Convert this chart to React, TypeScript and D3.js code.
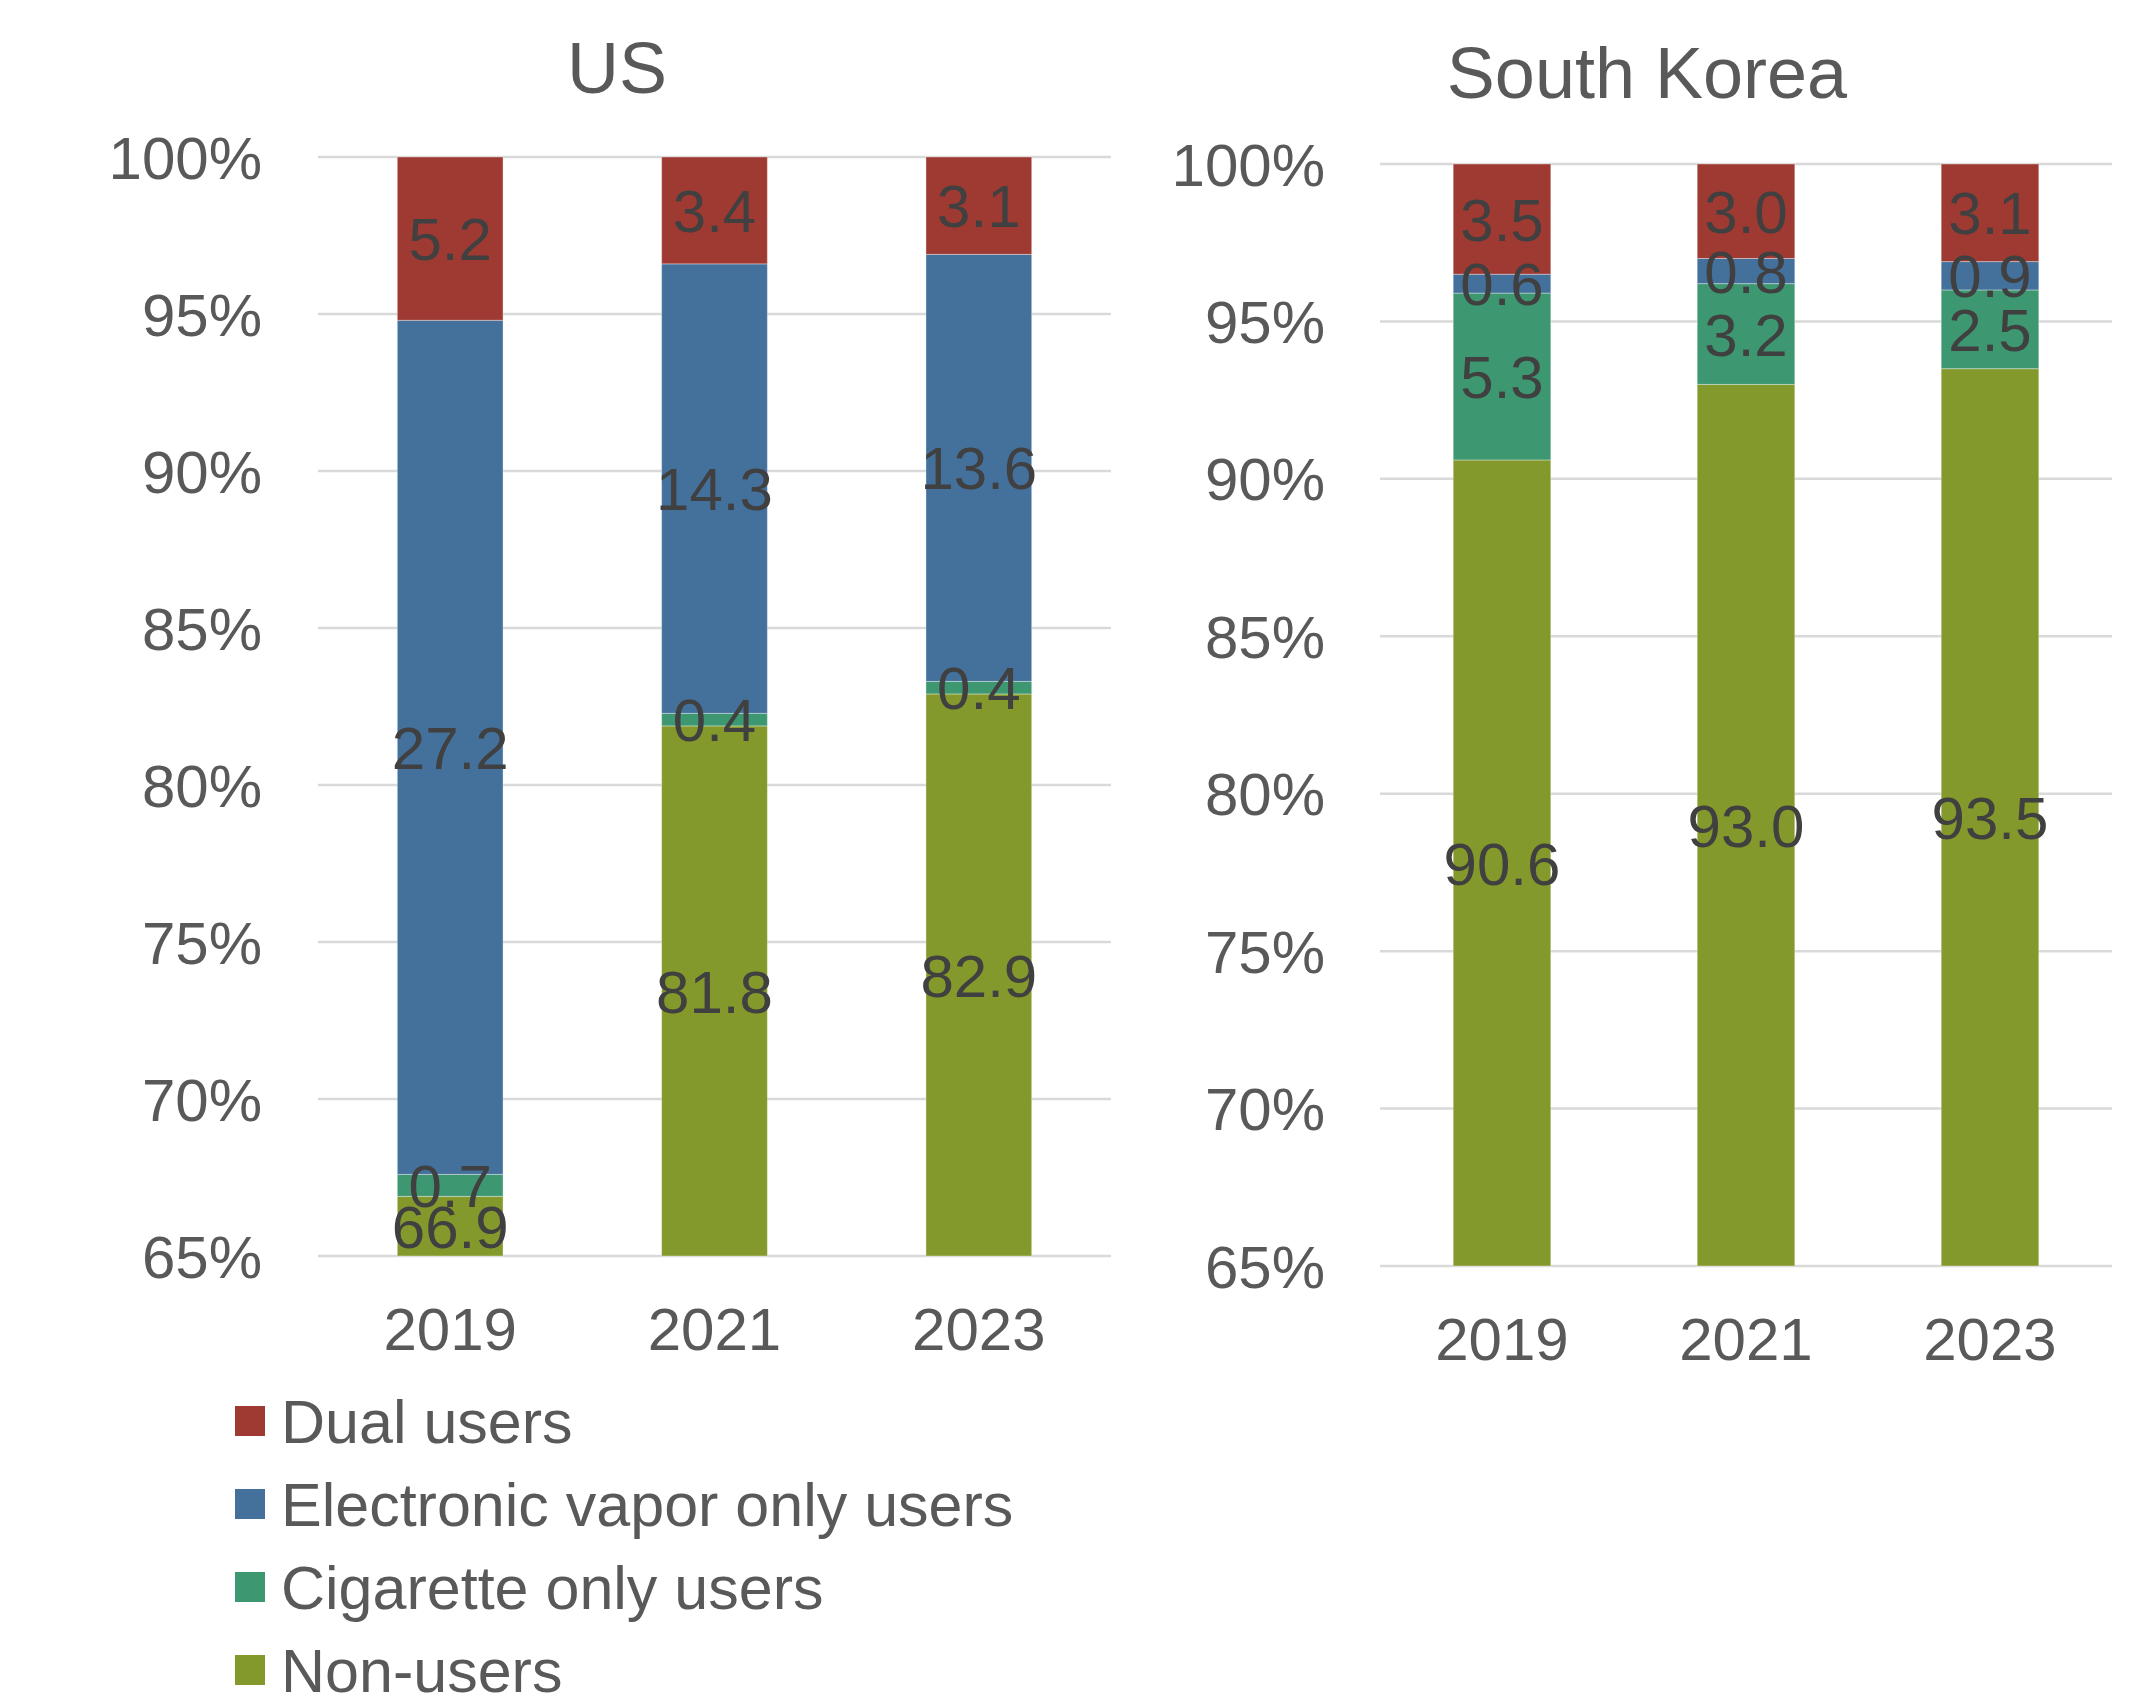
import React from "react";
import * as d3 from "d3";

const years = ["2019", "2021", "2023"];
const seriesNames = ["Non-users", "Cigarette only users", "Electronic vapor only users", "Dual users"];
const seriesColors = ["#84992B", "#3D9770", "#44709C", "#9F3A33"];
const legendOrder = ["Dual users", "Electronic vapor only users", "Cigarette only users", "Non-users"];

const usNonUsers = [66.9, 81.8, 82.9];
const usCigarette = [0.7, 0.4, 0.4];
const usVapor = [27.2, 14.3, 13.6];
const usDual = [5.2, 3.4, 3.1];

const krNonUsers = [90.6, 93.0, 93.5];
const krCigarette = [5.3, 3.2, 2.5];
const krVapor = [0.6, 0.8, 0.9];
const krDual = [3.5, 3.0, 3.1];

const yTicks = [65, 70, 75, 80, 85, 90, 95, 100];

const W = 2142;
const H = 1701;
const FONT = "'Liberation Sans', Arial, sans-serif";

type Panel = {
  title: string;
  titleX: number;
  titleY: number;
  left: number;
  right: number;
  top: number;
  bottom: number;
  labelRight: number;
  xLabelY: number;
  values: number[][];
};

function buildRows(values: number[][]) {
  return years.map((yr, i) => {
    const row: any = { year: yr };
    seriesNames.forEach((s, k) => (row[s] = values[k][i]));
    return row;
  });
}

function ChartPanel({ p }: { p: Panel }) {
  const x = d3.scaleBand<string>().domain(years).range([p.left, p.right]).paddingInner(0.6).paddingOuter(0.3);
  const y = d3.scaleLinear().domain([65, 100]).range([p.bottom, p.top]);
  const rows = buildRows(p.values);
  const stacked = d3.stack<any>().keys(seriesNames).offset(d3.stackOffsetExpand)(rows);
  const clampV = (v: number) => Math.max(65, Math.min(100, v * 100));
  return (
    <g>
      <text x={p.titleX} y={p.titleY} textAnchor="middle" fontSize={72} fill="#595959" fontFamily={FONT}>
        {p.title}
      </text>
      {yTicks.map((t) => (
        <g key={t}>
          <line x1={p.left} x2={p.right} y1={y(t)} y2={y(t)} stroke="#D9D9D9" strokeWidth={2.5} />
          <text x={p.labelRight} y={y(t)} dy="0.36em" textAnchor="end" fontSize={60} fill="#595959" fontFamily={FONT}>
            {t}%
          </text>
        </g>
      ))}
      {stacked.map((layer, k) => (
        <g key={layer.key}>
          {layer.map((d, i) => {
            const y0 = clampV(d[0]);
            const y1 = clampV(d[1]);
            const bx = x(years[i])!;
            return (
              <rect
                key={i}
                x={bx}
                width={x.bandwidth()}
                y={y(y1)}
                height={Math.max(0, y(y0) - y(y1))}
                fill={seriesColors[k]}
                stroke="#ffffff"
                strokeOpacity={0.35}
                strokeWidth={1}
              />
            );
          })}
        </g>
      ))}
      {stacked.map((layer, k) => (
        <g key={layer.key + "-lbl"}>
          {layer.map((d, i) => {
            const y0 = clampV(d[0]);
            const y1 = clampV(d[1]);
            const bx = x(years[i])! + x.bandwidth() / 2;
            return (
              <text
                key={i}
                x={bx}
                y={y((y0 + y1) / 2)}
                dy="0.36em"
                textAnchor="middle"
                fontSize={60}
                fill="#404040"
                fontFamily={FONT}
              >
                {p.values[k][i].toFixed(1)}
              </text>
            );
          })}
        </g>
      ))}
      {years.map((yr) => (
        <text
          key={yr}
          x={x(yr)! + x.bandwidth() / 2}
          y={p.xLabelY}
          textAnchor="middle"
          fontSize={60}
          fill="#595959"
          fontFamily={FONT}
        >
          {yr}
        </text>
      ))}
    </g>
  );
}

export default function App() {
  const us: Panel = {
    title: "US",
    titleX: 617,
    titleY: 93,
    left: 318,
    right: 1111,
    top: 157,
    bottom: 1256,
    labelRight: 262,
    xLabelY: 1350,
    values: [usNonUsers, usCigarette, usVapor, usDual],
  };
  const kr: Panel = {
    title: "South Korea",
    titleX: 1647,
    titleY: 98,
    left: 1380,
    right: 2112,
    top: 164,
    bottom: 1266,
    labelRight: 1325,
    xLabelY: 1360,
    values: [krNonUsers, krCigarette, krVapor, krDual],
  };
  const legendY = d3.scalePoint<string>().domain(legendOrder).range([1421, 1670]);
  return (
    <svg
      width={W}
      height={H}
      viewBox={`0 0 ${W} ${H}`}
      style={{ position: "absolute", left: 0, top: 0, background: "#ffffff" }}
    >
      <rect x={0} y={0} width={W} height={H} fill="#ffffff" />
      <ChartPanel p={us} />
      <ChartPanel p={kr} />
      {legendOrder.map((name) => {
        const k = seriesNames.indexOf(name);
        const cy = legendY(name)!;
        return (
          <g key={name}>
            <rect x={235} y={cy - 15} width={30} height={30} fill={seriesColors[k]} />
            <text x={281} y={cy} dy="0.36em" fontSize={61} fill="#595959" fontFamily={FONT}>
              {name}
            </text>
          </g>
        );
      })}
    </svg>
  );
}
